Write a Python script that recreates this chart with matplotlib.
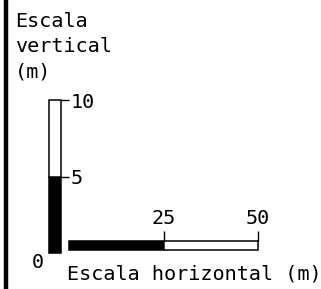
import matplotlib
matplotlib.use("Agg")
import matplotlib.pyplot as plt

W, H = 321, 289
DPI = 100

# Data
v_segments = [0, 5, 10]          # vertical scale (m)
v_colors = ["black", "white"]
v_ticks = [5, 10]
h_segments = [0, 25, 50]         # horizontal scale (m)
h_colors = ["black", "white"]
h_ticks = [25, 50]
title_v = "Escala\nvertical\n(m)"
title_h = "Escala horizontal (m)"
zero_label = "0"

FONT = "DejaVu Sans Mono"
FS = 14.5

fig = plt.figure(figsize=(W / DPI, H / DPI), dpi=DPI)
fig.patch.set_facecolor("white")

def fx(x):
    return x / W

def fy(y):
    return 1 - y / H

# Thick left line
fig.add_artist(plt.Line2D([fx(6), fx(6)], [0, 1], color="black", lw=3.2,
                          transform=fig.transFigure))

# Vertical scale bar
x0, x1, ytop, ybot = 49, 61, 100, 253
ax_v = fig.add_axes([fx(x0), fy(ybot), (x1 - x0) / W, (ybot - ytop) / H])
for i in range(len(v_segments) - 1):
    ax_v.bar(0.5, v_segments[i + 1] - v_segments[i], bottom=v_segments[i],
             width=1, color=v_colors[i], edgecolor="black", lw=1.1,
             clip_on=False)
ax_v.set_xlim(0, 1)
ax_v.set_ylim(v_segments[0], v_segments[-1])
for s in ax_v.spines.values():
    s.set_visible(False)
ax_v.set_xticks([])
ax_v.yaxis.tick_right()
ax_v.set_yticks(v_ticks)
ax_v.set_yticklabels([str(t) for t in v_ticks], fontfamily=FONT, fontsize=FS)
ax_v.tick_params(axis="y", direction="out", length=5.5, width=1.0, pad=1.5)
ax_v.patch.set_alpha(0)

# Horizontal scale bar
hx0, hx1, hytop, hybot = 69, 258, 241, 250
ax_h = fig.add_axes([fx(hx0), fy(hybot), (hx1 - hx0) / W, (hybot - hytop) / H])
for i in range(len(h_segments) - 1):
    ax_h.barh(0.5, h_segments[i + 1] - h_segments[i], left=h_segments[i],
              height=1, color=h_colors[i], edgecolor="black", lw=1.1,
              clip_on=False)
ax_h.set_ylim(0, 1)
ax_h.set_xlim(h_segments[0], h_segments[-1])
for s in ax_h.spines.values():
    s.set_visible(False)
ax_h.set_yticks([])
ax_h.xaxis.tick_top()
ax_h.set_xticks(h_ticks)
ax_h.set_xticklabels([str(t) for t in h_ticks], fontfamily=FONT, fontsize=FS)
ax_h.tick_params(axis="x", direction="out", length=7, width=1.0, pad=2)
ax_h.patch.set_alpha(0)

# Texts
fig.text(fx(15), fy(12), title_v, ha="left", va="top", fontfamily=FONT,
         fontsize=FS, linespacing=1.4)
fig.text(fx(38), fy(263), zero_label, ha="center", va="center",
         fontfamily=FONT, fontsize=FS)
fig.text(fx(67), fy(274), title_h, ha="left", va="center",
         fontfamily=FONT, fontsize=FS)

fig.savefig("out.png", dpi=DPI, facecolor="white")
